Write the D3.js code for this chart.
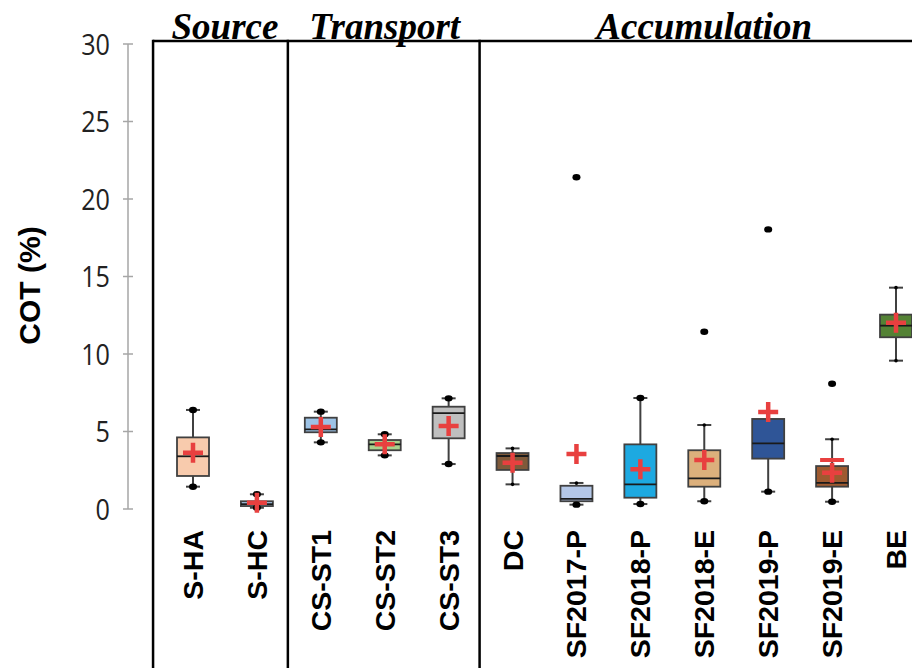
<!DOCTYPE html>
<html>
<head>
<meta charset="utf-8">
<script src="https://cdn.jsdelivr.net/npm/d3@7"></script>
<style>
  html, body { margin: 0; padding: 0; background: #fff; }
  svg { display: block; }
</style>
</head>
<body>
<svg id="chart" width="912" height="668"></svg>
<script>
// ---- data ----
const categories = ["S-HA","S-HC","CS-ST1","CS-ST2","CS-ST3","DC","SF2017-P","SF2018-P","SF2018-E","SF2019-P","SF2019-E","BE"];
const whiskerLow  = [1.44, 0.08, 4.30, 3.46, 2.90, 1.59, 0.28, 0.32, 0.50, 1.12, 0.47, 9.57];
const q1          = [2.13, 0.19, 4.95, 3.79, 4.56, 2.52, 0.50, 0.73, 1.44, 3.25, 1.44, 11.08];
const medians     = [3.40, 0.32, 5.14, 4.17, 6.19, 3.42, 0.65, 1.59, 1.98, 4.24, 1.68, 11.83];
const q3          = [4.62, 0.50, 5.89, 4.45, 6.60, 3.61, 1.50, 4.17, 3.79, 5.81, 2.77, 12.54];
const whiskerHigh = [6.39, 0.95, 6.28, 4.82, 7.14, 3.91, 1.68, 7.16, 5.42, 5.81, 4.50, 14.28];
const means       = [3.63, 0.40, 5.29, 4.17, 5.35, 2.99, 3.55, 2.56, 3.16, 6.26, 2.34, 12.02];
const outlierCategory = ["SF2017-P","SF2018-E","SF2019-P","SF2019-E"];
const outlierValue    = [21.4, 11.44, 18.04, 8.08];
const lowEndIsPoint  = [true,true,true,true,true,false,true,true,true,true,true,false];
const highEndIsPoint = [true,true,true,true,true,false,false,true,false,false,false,false];
const dashCategory = ["SF2019-E"];
const dashValue    = [3.16];
const groupNames = ["Source","Transport","Accumulation"];
const groupFirst = ["S-HA","CS-ST1","DC"];
const groupLast  = ["S-HC","CS-ST3","BE"];
const yTicks = [0,5,10,15,20,25,30];
const yLabel = "COT (%)";

const fills = {"S-HA":"#f8cbad","S-HC":"#a9c8ea","CS-ST1":"#9dc3e6","CS-ST2":"#a9d18e","CS-ST3":"#bfbfbf",
  "DC":"#7f5a3a","SF2017-P":"#b4c7e7","SF2018-P":"#1da9e1","SF2018-E":"#dcb07c","SF2019-P":"#2f5597",
  "SF2019-E":"#9e5a30","BE":"#548235"};

// ---- scales ----
const svg = d3.select("#chart");
const x = d3.scalePoint().domain(categories).range([193, 896]);
const step = x.step();
const y = d3.scaleLinear().domain([0, 30]).range([509, 44]);

const boxW = 32, capW = 14, plusS = 10;
const red = "#e8403f", edge = "#404040";

// ---- y axis ----
const axisX = 128;
svg.append("line").attr("x1", axisX).attr("x2", axisX)
  .attr("y1", y(30)).attr("y2", y(0)).attr("stroke", "#a6a6a6").attr("stroke-width", 1.5);
svg.selectAll(".ytick").data(yTicks).enter().append("line")
  .attr("x1", axisX - 5).attr("x2", axisX + 5)
  .attr("y1", d => y(d)).attr("y2", d => y(d))
  .attr("stroke", "#a6a6a6").attr("stroke-width", 1.5);
svg.selectAll(".ylab").data(yTicks).enter().append("text")
  .attr("transform", d => `translate(110,${y(d)}) scale(0.84,1)`)
  .attr("text-anchor", "end").attr("dy", "0.36em")
  .attr("font-family", "'Open Sans', sans-serif").attr("font-size", 30)
  .attr("fill", "#222").text(d => d);
svg.append("text")
  .attr("transform", `translate(40,${(y(0)+y(30))/2 + 9}) rotate(-90)`)
  .attr("text-anchor", "middle")
  .attr("font-family", "'Liberation Sans', Arial, sans-serif").attr("font-weight", "bold")
  .attr("font-size", 30).attr("fill", "#000").text(yLabel);

// ---- frame & group dividers ----
const frameTop = 41;
const leftEdge = x(categories[0]) - step * 0.625;
svg.append("line").attr("x1", leftEdge).attr("x2", 912).attr("y1", frameTop).attr("y2", frameTop)
  .attr("stroke", "#000").attr("stroke-width", 2.5);
const dividers = [leftEdge];
groupLast.slice(0, -1).forEach(c => dividers.push(x(c) + step / 2 - 1));
svg.selectAll(".div").data(dividers).enter().append("line")
  .attr("x1", d => d).attr("x2", d => d).attr("y1", frameTop - 1.25).attr("y2", 668)
  .attr("stroke", "#000").attr("stroke-width", 2.5);

// group titles
svg.selectAll(".gtitle").data(groupNames).enter().append("text")
  .attr("x", (d, i) => (x(groupFirst[i]) + x(groupLast[i])) / 2)
  .attr("y", 39)
  .attr("text-anchor", "middle")
  .attr("font-family", "'Liberation Serif', 'Times New Roman', serif")
  .attr("font-style", "italic").attr("font-weight", "bold")
  .attr("font-size", 37).attr("fill", "#000").text(d => d);

// ---- boxes ----
const g = svg.selectAll(".box").data(categories).enter().append("g")
  .attr("transform", d => `translate(${x(d)},0)`);

// whiskers
g.append("line").attr("x1", 0).attr("x2", 0)
  .attr("y1", (d, i) => y(whiskerLow[i])).attr("y2", (d, i) => y(whiskerHigh[i]))
  .attr("stroke", edge).attr("stroke-width", 2);
g.append("line").attr("x1", -capW/2).attr("x2", capW/2)
  .attr("y1", (d, i) => y(whiskerLow[i])).attr("y2", (d, i) => y(whiskerLow[i]))
  .attr("stroke", edge).attr("stroke-width", 2);
g.filter((d, i) => whiskerHigh[i] > q3[i]).append("line").attr("x1", -capW/2).attr("x2", capW/2)
  .attr("y1", d => y(whiskerHigh[categories.indexOf(d)])).attr("y2", d => y(whiskerHigh[categories.indexOf(d)]))
  .attr("stroke", edge).attr("stroke-width", 2);

// box
g.append("rect")
  .attr("x", -boxW/2).attr("width", boxW)
  .attr("y", (d, i) => y(q3[i])).attr("height", (d, i) => y(q1[i]) - y(q3[i]))
  .attr("fill", d => fills[d]).attr("stroke", edge).attr("stroke-width", 1.8);
g.append("line").attr("x1", -boxW/2).attr("x2", boxW/2)
  .attr("y1", (d, i) => y(medians[i])).attr("y2", (d, i) => y(medians[i]))
  .attr("stroke", "#1a1a1a").attr("stroke-width", 1.8);

// whisker end points
g.filter((d, i) => lowEndIsPoint[i]).append("ellipse")
  .attr("cx", 0).attr("cy", d => y(whiskerLow[categories.indexOf(d)])).attr("rx", 4).attr("ry", 3.2).attr("fill", "#000");
g.filter((d, i) => highEndIsPoint[i]).append("ellipse")
  .attr("cx", 0).attr("cy", d => y(whiskerHigh[categories.indexOf(d)])).attr("rx", 4).attr("ry", 3.2).attr("fill", "#000");
g.filter((d, i) => !lowEndIsPoint[i]).append("circle")
  .attr("cx", 0).attr("cy", d => y(whiskerLow[categories.indexOf(d)])).attr("r", 1.8).attr("fill", "#000");
g.filter((d, i) => !highEndIsPoint[i] && whiskerHigh[i] > q3[i]).append("circle")
  .attr("cx", 0).attr("cy", d => y(whiskerHigh[categories.indexOf(d)])).attr("r", 1.8).attr("fill", "#000");

// mean plus
g.append("path")
  .attr("d", (d, i) => {
    const my = y(means[i]);
    return `M${-plusS},${my}H${plusS}M0,${my - plusS}V${my + plusS}`;
  })
  .attr("stroke", red).attr("stroke-width", 4.5).attr("fill", "none");

// extra red dash
svg.selectAll(".dash").data(dashCategory).enter().append("line")
  .attr("x1", d => x(d) - 12).attr("x2", d => x(d) + 12)
  .attr("y1", (d, i) => y(dashValue[i])).attr("y2", (d, i) => y(dashValue[i]))
  .attr("stroke", red).attr("stroke-width", 4);

// outliers
svg.selectAll(".out").data(outlierCategory).enter().append("ellipse")
  .attr("cx", d => x(d)).attr("cy", (d, i) => y(outlierValue[i]))
  .attr("rx", 4).attr("ry", 3.2).attr("fill", "#000");

// ---- category labels ----
svg.selectAll(".clab").data(categories).enter().append("text")
  .attr("transform", d => `translate(${x(d) + 10},530) rotate(-90)`)
  .attr("text-anchor", "end")
  .attr("font-family", "'Liberation Sans', Arial, sans-serif").attr("font-weight", "bold")
  .attr("font-size", 28.5).attr("fill", "#000").text(d => d);
</script>
</body>
</html>
